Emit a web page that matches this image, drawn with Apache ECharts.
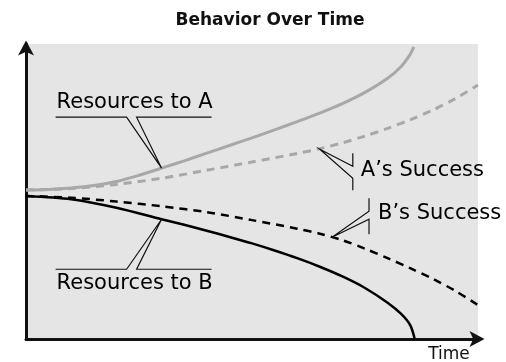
<!DOCTYPE html>
<html>
<head>
<meta charset="utf-8">
<script src="https://cdn.jsdelivr.net/npm/echarts@6/dist/echarts.min.js"></script>
<style>html,body{margin:0;padding:0;background:#fff;}#c{width:506px;height:362px;}</style>
</head>
<body>
<div id="c"></div>
<script>
// ---- data (time 0..100, level 0..100) ----
const titleText = 'Behavior Over Time';
const xAxisName = 'Time';
const seriesNames = ['Resources to A', 'A\u2019s Success', 'B\u2019s Success', 'Resources to B'];

const timeResA = [0, 5, 10, 15, 20, 25, 30, 35, 40, 45, 50, 55, 60, 65, 70, 75, 80, 83, 85, 85.8];
const valResA  = [50.5, 50.7, 51.2, 52.0, 53.4, 55.5, 57.9, 60.4, 63.0, 65.6, 68.2, 70.9, 73.7, 76.6, 79.8, 83.6, 88.4, 92.4, 96.5, 99.0];

const timeSucA = [0, 10, 20, 30, 40, 50, 60, 65, 70, 75, 80, 85, 90, 95, 100];
const valSucA  = [50.5, 51.0, 52.4, 54.5, 57.2, 60.0, 62.9, 64.5, 66.5, 68.8, 71.4, 74.3, 77.6, 81.5, 86.1];

const timeSucB = [0, 10, 20, 30, 40, 50, 60, 65, 70, 75, 80, 85, 90, 95, 100];
const valSucB  = [48.5, 47.9, 46.6, 45.0, 43.0, 40.3, 37.4, 35.7, 33.5, 30.6, 27.4, 24.0, 20.4, 16.3, 11.5];

const timeResB = [0, 10, 20, 30, 35, 40, 45, 50, 55, 60, 65, 70, 75, 80, 83, 85, 86];
const valResB  = [48.5, 47.4, 44.5, 40.6, 38.7, 36.7, 34.6, 32.4, 30.0, 27.4, 24.5, 21.2, 17.3, 12.3, 8.5, 4.7, 0];

// callout anchor points (data coordinates on the curves)
const anchorResA = [30, 57.9];
const anchorSucA = [65, 64.3];
const anchorSucB = [67.7, 34.5];
const anchorResB = [30, 40.6];

function pairs(t, v) { return t.map((x, i) => [x, v[i]]); }

const chart = echarts.init(document.getElementById('c'), null, {renderer: 'canvas'});

const axisCommon = {
  type: 'value', min: 0, max: 100,
  splitLine: {show: false}, axisTick: {show: false}, axisLabel: {show: false},
};

const option = {
  animation: false,
  grid: {left: 26, right: 28, top: 44, bottom: 23, show: true, backgroundColor: '#e5e5e5', borderWidth: 0},
  xAxis: Object.assign({}, axisCommon, {
    axisLine: {show: true, symbol: ['none', 'arrow'], symbolSize: [12, 15], symbolOffset: [0, 6.5],
      lineStyle: {color: '#111', width: 3}}
  }),
  yAxis: Object.assign({}, axisCommon, {
    axisLine: {show: true, symbol: ['none', 'arrow'], symbolSize: [12, 15], symbolOffset: [0, 3.5],
      lineStyle: {color: '#111', width: 3}}
  }),
  series: [
    {name: seriesNames[0], type: 'line', data: pairs(timeResA, valResA), showSymbol: false, smooth: 0.3,
      lineStyle: {color: '#a8a8a8', width: 3}},
    {name: seriesNames[1], type: 'line', data: pairs(timeSucA, valSucA), showSymbol: false, smooth: 0.3,
      lineStyle: {color: '#a8a8a8', width: 3, type: [8, 6]}},
    {name: seriesNames[2], type: 'line', data: pairs(timeSucB, valSucB), showSymbol: false, smooth: 0.3,
      lineStyle: {color: '#000', width: 2.5, type: [8, 6]}},
    {name: seriesNames[3], type: 'line', data: pairs(timeResB, valResB), showSymbol: false, smooth: 0.3,
      lineStyle: {color: '#000', width: 2.5}}
  ]
};
chart.setOption(option);

const labelFont = '21px "DejaVu Sans"';
function callout(anchor, offs, textOff, text) {
  const p = chart.convertToPixel({gridIndex: 0}, anchor);
  const pts = offs.map(o => [p[0] + o[0], p[1] + o[1]]);
  return [
    {type: 'polyline', shape: {points: pts}, style: {stroke: '#111', lineWidth: 1.2, fill: null}, z: 100},
    {type: 'text', x: p[0] + textOff[0], y: p[1] + textOff[1],
      style: {text: text, font: labelFont, fill: '#000', textAlign: 'left', textVerticalAlign: 'middle'}, z: 100}
  ];
}

const g = [].concat(
  callout(anchorResA, [[-106, -51], [-35, -51], [0, 0], [-25, -51], [50, -51]], [-105, -66], seriesNames[0]),
  callout(anchorResB, [[-106, 50], [-35, 50], [0, 0], [-25, 50], [50, 50]], [-105, 64], seriesNames[3]),
  callout(anchorSucA, [[33, 4], [33, 17], [0, 0], [33, 29], [33, 41]], [41, 21], seriesNames[1]),
  callout(anchorSucB, [[37, -39], [37, -26], [0, 0], [37, -18], [37, -3]], [46, -24], seriesNames[2]),
  [
    {type: 'text', x: 270, y: 21, style: {text: titleText, font: 'bold 17px "DejaVu Sans"', fill: '#111', textAlign: 'center', textVerticalAlign: 'middle'}, z: 100},
    {type: 'text', x: 449, y: 355, style: {text: xAxisName, font: '17px "DejaVu Sans"', fill: '#111', textAlign: 'center', textVerticalAlign: 'middle'}, z: 100}
  ]
);
chart.setOption({graphic: g});
</script>
</body>
</html>
